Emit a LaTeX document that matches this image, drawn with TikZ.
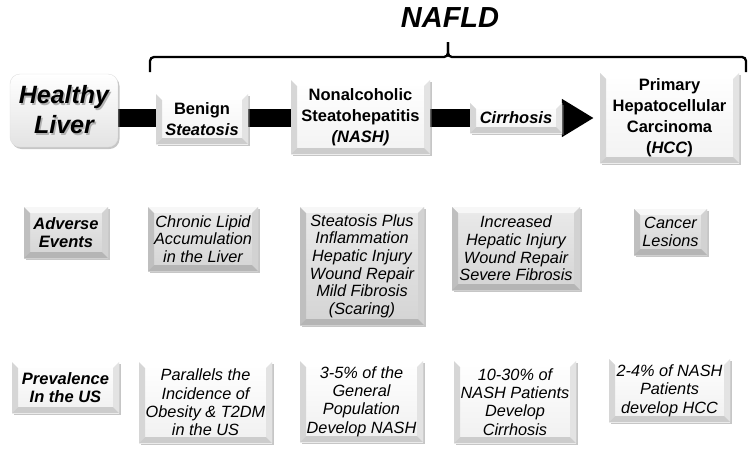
\documentclass[tikz,border=0pt]{standalone}
\usepackage{fontspec}
\setmainfont{Liberation Sans}
\usetikzlibrary{arrows.meta,shadows,backgrounds}

\newcommand\shadowtext[1]{\makebox[0pt][l]{\hspace{1.5pt}\raisebox{-1.5pt}{\textcolor{gray!60}{#1}}}#1}

\tikzset{
	bevel/.style n args={4}{path picture={
		\fill[#1] (path picture bounding box.north west) -- (path picture bounding box.north east)
			-- ([shift={(-6pt,-6pt)}]path picture bounding box.north east)
			-- ([shift={(6pt,-6pt)}]path picture bounding box.north west) -- cycle;
		\fill[#2] (path picture bounding box.north west) -- ([shift={(6pt,-6pt)}]path picture bounding box.north west)
			-- ([shift={(6pt,6pt)}]path picture bounding box.south west)
			-- (path picture bounding box.south west) -- cycle;
		\fill[#3] (path picture bounding box.north east) -- (path picture bounding box.south east)
			-- ([shift={(-6pt,6pt)}]path picture bounding box.south east)
			-- ([shift={(-6pt,-6pt)}]path picture bounding box.north east) -- cycle;
		\fill[#4] (path picture bounding box.south west) -- (path picture bounding box.south east)
			-- ([shift={(-6pt,6pt)}]path picture bounding box.south east)
			-- ([shift={(6pt,6pt)}]path picture bounding box.south west) -- cycle;
	}},
	boxsize/.style 2 args={minimum width=#1pt,minimum height=#2pt},
	shade/.style={drop shadow={shadow xshift=1.5pt,shadow yshift=-2pt,fill=gray,opacity=.45}},
	stagebox/.style={shade,bevel={white}{gray!32}{gray!22}{gray!40},top color=white,bottom color=gray!10,
		align=center,inner sep=2pt,font=\bfseries\fontsize{16.5}{21}\selectfont},
	eventbox/.style={shade,bevel={gray!6}{gray!50}{gray!35}{gray!58},top color=gray!16,bottom color=gray!34,
		align=center,inner sep=1pt,font=\itshape\fontsize{16.3}{17.6}\selectfont},
	prevbox/.style={shade,bevel={white}{gray!32}{gray!22}{gray!40},top color=white,bottom color=gray!12,
		align=center,inner sep=1pt,font=\itshape\fontsize{16.3}{18.3}\selectfont},
	rowhead/.style={font=\bfseries\itshape\fontsize{16.5}{18}\selectfont},
	bar/.style={line width=18pt,-{Triangle[length=32pt,width=36pt]}},
	brace/.style={line width=2.3pt,rounded corners=4pt}
}

\begin{document}
\begin{tikzpicture}[x=1pt,y=-1pt]
\useasboundingbox (0,0) rectangle (754,456);

% stages
\node[shade,rounded corners=10pt,top color=white,bottom color=gray!22,draw=gray!25,boxsize={108}{73},
	align=center,font=\bfseries\itshape\fontsize{25}{30}\selectfont] (liver) at (64,110.5)
	{\shadowtext{Healthy}\\\shadowtext{Liver}};
\node[stagebox,boxsize={92}{50}] (benign) at (202,119) {Benign\\\textit{Steatosis}};
\node[stagebox,boxsize={139}{74}] (nash) at (360.5,117) {Nonalcoholic\\Steatohepatitis\\\textit{(NASH)}};
\node[stagebox,boxsize={92}{30}] (cirr) at (516,118) {\textit{Cirrhosis}};
\node[stagebox,boxsize={139}{90}] (hcc) at (669.5,118) {Primary\\Hepatocellular\\Carcinoma\\(\textit{HCC})};

\begin{scope}[on background layer]
\draw[bar,shorten >=6pt] (liver.east |- cirr.center) -- (hcc.west |- cirr.center);
\end{scope}

% NAFLD brace
\node[font=\bfseries\itshape\fontsize{29}{32}\selectfont] (nafld) at (450,18) {NAFLD};
\coordinate (braceL) at (150,72);
\coordinate (braceR) at (746,72);
\coordinate (braceTip) at (448,42);
\draw[brace] (braceL) -- (braceL |- 0,57) -- (braceTip |- 0,57) -- (braceTip);
\draw[brace] (braceTip) -- (braceTip |- 0,57) -- (braceR |- 0,57) -- (braceR);

% adverse events
\node[eventbox,rowhead,boxsize={84}{51}] (adverse) at (66,232.5) {Adverse\\Events};
\node[eventbox,boxsize={110}{64}] (chronic) at (203,239) {Chronic Lipid\\Accumulation\\in the Liver};
\node[eventbox,boxsize={124}{118}] (plus) at (362,266) {Steatosis Plus\\Inflammation\\Hepatic Injury\\Wound Repair\\Mild Fibrosis\\(Scaring)};
\node[eventbox,boxsize={128}{83}] (increased) at (516,248.5) {Increased\\Hepatic Injury\\Wound Repair\\Severe Fibrosis};
\node[eventbox,boxsize={73}{46}] (cancer) at (670.5,232) {Cancer\\Lesions};

% prevalence
\node[prevbox,rowhead,boxsize={107}{51}] (prevalence) at (65.5,387.5) {Prevalence\\In the US};
\node[prevbox,boxsize={133}{81}] (parallels) at (205.5,402.5) {Parallels the\\Incidence of\\Obesity \& T2DM\\in the US};
\node[prevbox,boxsize={123}{81}] (general) at (361.5,401.5) {3-5\% of  the\\General\\Population\\Develop NASH};
\node[prevbox,boxsize={122}{82}] (nashpat) at (515,402) {10-30\% of\\NASH Patients\\Develop\\Cirrhosis};
\node[prevbox,boxsize={121}{63}] (hccpat) at (669.5,390.5) {2-4\% of NASH\\Patients\\develop HCC};
\end{tikzpicture}
\end{document}
